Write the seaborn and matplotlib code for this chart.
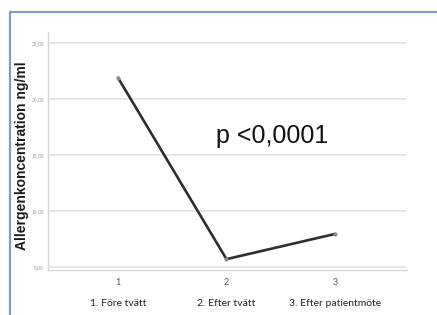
import matplotlib

matplotlib.use("Agg")

import matplotlib.pyplot as plt
import pandas as pd
import seaborn as sns
from matplotlib.patches import Rectangle
from matplotlib.transforms import blended_transform_factory

# Data
steps = [1, 2, 3]
step_labels = ["1. Före tvätt", "2. Efter tvätt", "3. Efter patientmöte"]
concentration = [21.9, 5.7, 7.95]
y_ticks = [5, 10, 15, 20, 25]
y_tick_labels = ["5,00", "10,00", "15,00", "20,00", "25,00"]

df = pd.DataFrame({"step": steps, "conc": concentration})

sns.set_theme(style="white")
plt.rcParams["font.family"] = ["Liberation Sans", "DejaVu Sans"]

fig = plt.figure(figsize=(4.37, 3.15), dpi=100)
fig.patch.set_facecolor("white")

# blue frame around the pasted chart
fig.patches.append(
    Rectangle((10 / 437, -0.1), 1.2, 1 - 12 / 315 + 0.1, transform=fig.transFigure,
              fill=False, edgecolor="#7f9bcc", linewidth=1.6, zorder=0)
)

ax = fig.add_axes([48 / 437, 1 - 270 / 315, (407 - 48) / 437, (270 - 32) / 315])
ax.set_facecolor("white")

sns.lineplot(data=df, x="step", y="conc", ax=ax, color="#2e2e2e", linewidth=1.9,
             marker="o", markersize=3, markerfacecolor="#8a8a8a", markeredgewidth=0)

ax.set_xlim(0.355, 3.664)
ax.set_ylim(4.73, 25.98)
ax.set_yticks(y_ticks)
ax.set_yticklabels(y_tick_labels, fontsize=3.5, color="#9a9a9a")
ax.set_xticks(steps)
ax.set_xticklabels([str(s) for s in steps], fontsize=6.5, color="#555555", family="Lato")
ax.tick_params(axis="both", length=0)
ax.tick_params(axis="x", pad=6)
ax.tick_params(axis="y", pad=3)

for v in y_ticks:
    ax.axhline(v, color="#e2e2e2", linewidth=1.2, zorder=0)

for side in ["top", "right"]:
    ax.spines[side].set_visible(False)
for side in ["left", "bottom"]:
    ax.spines[side].set_color("#d6d6d6")
    ax.spines[side].set_linewidth(1.0)

ax.set_xlabel("")
ax.set_ylabel("Allergenkoncentration ng/ml", fontsize=10, color="#1a1a1a",
              fontweight="bold")
ax.yaxis.set_label_coords(-19 / 359, 0.48)

trans = blended_transform_factory(ax.transData, ax.transAxes)
for s, lab in zip(steps, step_labels):
    ax.text(s, -33 / 238, lab, transform=trans, ha="center", va="center",
            fontsize=7.5, color="#222222", family="Lato")

ax.text(2.42, 16.07, "p <0,0001", fontsize=18, color="#111111", ha="center",
        va="baseline")

fig.savefig("out.png", dpi=100)
plt.close(fig)
